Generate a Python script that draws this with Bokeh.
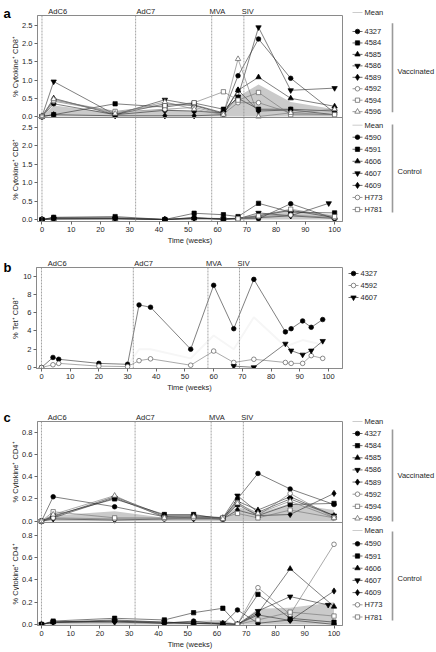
import math
from bokeh.plotting import figure
from bokeh.models import Range1d, FixedTicker, Span
from bokeh.layouts import row, column
from bokeh.embed import file_html
from bokeh.resources import INLINE
from bokeh.core.properties import value

# ---------------- data ----------------
WEEKS = [0, 4, 25, 42, 52, 62, 67, 74, 85, 100]
WEEKS_4607 = [0, 4, 25, 42, 52, 62, 67, 74, 85, 98]
WEEKS_NAIVE = [67, 74, 85, 100]

VACCINATED = ["4327", "4584", "4585", "4586", "4589", "4592", "4594", "4596"]
CONTROL = ["4590", "4591", "4606", "4607", "4609", "H773", "H781"]
TET_ANIMALS = ["4327", "4592", "4607"]

IMMUNIZATION_WEEKS = [0, 32, 58, 69]
IMMUNIZATION_LABELS = ["AdC6", "AdC7", "MVA", "SIV"]

X_TICKS = [0, 10, 20, 30, 40, 50, 60, 70, 80, 90, 100]
CD8_TICKS = [0.0, 0.5, 1.0, 1.5, 2.0, 2.5]
CD4_TICKS = [0.0, 0.2, 0.4, 0.6, 0.8]
TET_TICKS = [0, 2, 4, 6, 8, 10]

# panel a, vaccinated: % cytokine+ CD8+
CD8_V_4327 = [0, 0.35, 0.05, 0.17, 0.15, 0.10, 1.12, 2.13, 1.05, 0.10]
CD8_V_4584 = [0, 0.05, 0.35, 0.26, 0.37, 0.20, 0.50, 0.20, 0.20, 0.15]
CD8_V_4585 = [0, 0.50, 0.05, 0.35, 0.30, 0.08, 0.72, 1.08, 0.50, 0.28]
CD8_V_4586 = [0, 0.96, 0.05, 0.46, 0.32, 0.10, 0.55, 2.45, 0.72, 0.78]
CD8_V_4589 = [0, 0.05, 0.02, 0.02, 0.02, 0.05, 0.73, 0.15, 0.18, 0.05]
CD8_V_4592 = [0, 0.42, 0.12, 0.20, 0.25, 0.07, 0.38, 0.38, 0.10, 0.05]
CD8_V_4594 = [0, 0.45, 0.14, 0.30, 0.38, 0.68, 0.45, 0.66, 0.05, 0.05]
CD8_V_4596 = [0, 0.48, 0.08, 0.40, 0.20, 0.05, 1.58, 0.00, 0.10, 0.20]
CD8_V_MEAN = [0, 0.30, 0.10, 0.20, 0.15, 0.10, 0.55, 0.88, 0.40, 0.20]

# panel a, control: % cytokine+ CD8+
CD8_C_4590 = [0, 0.05, 0.05, 0.00, 0.05, 0.00, 0.02, 0.02, 0.43, 0.02]
CD8_C_4591 = [0, 0.06, 0.08, 0.00, 0.17, 0.13, 0.08, 0.44, 0.20, 0.18]
CD8_C_4606 = [0, 0.02, 0.02, 0.00, 0.03, 0.02, 0.03, 0.10, 0.25, 0.05]
CD8_C_4607 = [0, 0.01, 0.02, 0.00, 0.02, 0.02, 0.02, 0.18, 0.10, 0.44]
CD8_C_4609 = [0, 0.03, 0.03, 0.00, 0.05, 0.01, 0.04, 0.05, 0.10, 0.03]
CD8_C_H773 = [0.03, 0.08, 0.12, 0.05]
CD8_C_H781 = [0.02, 0.10, 0.28, 0.08]
CD8_C_MEAN = [0, 0.03, 0.04, 0.00, 0.06, 0.04, 0.04, 0.15, 0.25, 0.12]

# panel b: % Tet+ CD8+
TET_WEEKS = [0, 4, 6, 20, 30, 34, 38, 52, 60, 67, 74, 85, 87, 91, 94, 98]
TET_WEEKS_4607 = [67, 74, 85, 87, 91, 94, 98]
TET_4327 = [0, 1.1, 0.9, 0.45, 0.35, 6.85, 6.6, 2.0, 9.0, 4.25, 9.65, 3.9, 4.25, 5.1, 4.4, 5.25]
TET_4592 = [0, 0.3, 0.45, 0.15, 0.1, 0.75, 0.95, 0.25, 1.8, 0.55, 0.9, 0.55, 0.45, 0.45, 1.3, 1.0]
TET_4607 = [0.15, 0.02, 2.6, 1.85, 1.4, 1.85, 2.9]
TET_MEAN_WEEKS = [30, 34, 38, 52, 60, 67, 74, 85, 91, 98]
TET_MEAN = [0.2, 2.0, 2.0, 1.0, 3.5, 2.0, 5.5, 2.3, 3.0, 2.5]

# panel c, vaccinated: % cytokine+ CD4+
CD4_V_4327 = [0, 0.22, 0.13, 0.04, 0.03, 0.02, 0.20, 0.43, 0.29, 0.15]
CD4_V_4584 = [0, 0.05, 0.20, 0.06, 0.06, 0.02, 0.15, 0.05, 0.15, 0.16]
CD4_V_4585 = [0, 0.04, 0.22, 0.05, 0.05, 0.03, 0.18, 0.10, 0.22, 0.05]
CD4_V_4586 = [0, 0.03, 0.21, 0.04, 0.04, 0.03, 0.23, 0.08, 0.20, 0.05]
CD4_V_4589 = [0, 0.02, 0.01, 0.02, 0.02, 0.02, 0.10, 0.05, 0.06, 0.25]
CD4_V_4592 = [0, 0.03, 0.02, 0.02, 0.03, 0.02, 0.17, 0.05, 0.25, 0.03]
CD4_V_4594 = [0, 0.085, 0.03, 0.03, 0.03, 0.03, 0.07, 0.03, 0.10, 0.03]
CD4_V_4596 = [0, 0.06, 0.23, 0.03, 0.04, 0.02, 0.16, 0.07, 0.18, 0.03]
CD4_V_MEAN = [0, 0.05, 0.09, 0.03, 0.04, 0.04, 0.13, 0.07, 0.16, 0.10]

# panel c, control: % cytokine+ CD4+
CD4_C_4590 = [0, 0.02, 0.03, 0.01, 0.03, 0.00, 0.13, 0.01, 0.04, 0.00]
CD4_C_4591 = [0, 0.03, 0.055, 0.04, 0.105, 0.145, 0.00, 0.27, 0.055, 0.02]
CD4_C_4606 = [0, 0.02, 0.04, 0.02, 0.01, 0.01, 0.00, 0.10, 0.50, 0.16]
CD4_C_4607 = [0, 0.02, 0.03, 0.02, 0.01, 0.01, 0.00, 0.12, 0.25, 0.175]
CD4_C_4609 = [0, 0.02, 0.02, 0.01, 0.01, 0.00, 0.00, 0.085, 0.035, 0.30]
CD4_C_H773 = [0.00, 0.33, 0.09, 0.72]
CD4_C_H781 = [0.00, 0.04, 0.11, 0.075]
CD4_C_MEAN = [0, 0.02, 0.035, 0.02, 0.03, 0.04, 0.00, 0.14, 0.15, 0.20]

CD8_VACC = {"4327": (WEEKS, CD8_V_4327), "4584": (WEEKS, CD8_V_4584), "4585": (WEEKS, CD8_V_4585),
            "4586": (WEEKS, CD8_V_4586), "4589": (WEEKS, CD8_V_4589), "4592": (WEEKS, CD8_V_4592),
            "4594": (WEEKS, CD8_V_4594), "4596": (WEEKS, CD8_V_4596)}
CD8_CTRL = {"4590": (WEEKS, CD8_C_4590), "4591": (WEEKS, CD8_C_4591), "4606": (WEEKS, CD8_C_4606),
            "4607": (WEEKS_4607, CD8_C_4607), "4609": (WEEKS, CD8_C_4609),
            "H773": (WEEKS_NAIVE, CD8_C_H773), "H781": (WEEKS_NAIVE, CD8_C_H781)}
CD4_VACC = {"4327": (WEEKS, CD4_V_4327), "4584": (WEEKS, CD4_V_4584), "4585": (WEEKS, CD4_V_4585),
            "4586": (WEEKS, CD4_V_4586), "4589": (WEEKS, CD4_V_4589), "4592": (WEEKS, CD4_V_4592),
            "4594": (WEEKS, CD4_V_4594), "4596": (WEEKS, CD4_V_4596)}
CD4_CTRL = {"4590": (WEEKS, CD4_C_4590), "4591": (WEEKS, CD4_C_4591), "4606": (WEEKS, CD4_C_4606),
            "4607": (WEEKS_4607, CD4_C_4607), "4609": (WEEKS, CD4_C_4609),
            "H773": (WEEKS_NAIVE, CD4_C_H773), "H781": (WEEKS_NAIVE, CD4_C_H781)}
TET = {"4327": (TET_WEEKS, TET_4327), "4592": (TET_WEEKS, TET_4592), "4607": (TET_WEEKS_4607, TET_4607)}

# ---------------- style ----------------
FONT = "Liberation Sans"
TXT = "#1e1e1e"
FRAME = "#8a8a8a"
FS = "7.5px"
BAND = "#cacaca"
MEAN_LINE = "#cccccc"
STYLE = {"4327": ("circle", True), "4584": ("square", True), "4585": ("triangle", True),
         "4586": ("inverted_triangle", True), "4589": ("diamond", True), "4592": ("circle", False),
         "4594": ("square", False), "4596": ("triangle", False),
         "4590": ("circle", True), "4591": ("square", True), "4606": ("triangle", True),
         "4607": ("inverted_triangle", True), "4609": ("diamond", True), "H773": ("circle", False),
         "H781": ("square", False)}
SIZES = {"circle": 4.6, "square": 4.3, "triangle": 5.4, "inverted_triangle": 5.4, "diamond": 6.2}

LEFT_W = 19      # strip with panel letter and y-axis titles
MAIN_W = 325     # plot incl. tick labels
LEG_W = 92
AX_B = 17        # left border of plot (tick labels)
RIGHT_B = 2
BOT_B = 26


def line_col(sid):
    return "#2a2a2a" if STYLE[sid][1] else "#707070"


def marker_kw(sid):
    marker, filled = STYLE[sid]
    return dict(marker=marker, size=SIZES[marker], fill_color="black" if filled else "white",
                line_color="black" if filled else "#5a5a5a", line_width=0.7)


def draw_group(p, group, yname="default"):
    for sid, (x, y) in group.items():
        p.line(x, y, line_color=line_col(sid), line_width=0.6, y_range_name=yname)
    for sid, (x, y) in group.items():
        p.scatter(x, y, y_range_name=yname, **marker_kw(sid))


def add_text(p, x, y, s, **kw):
    opts = dict(text_font=value(FONT), text_font_size=value(FS), text_color=TXT,
                text_align="left", text_baseline="middle")
    opts.update(kw)
    p.text(x=[x], y=[y], text=[s], **opts)


def blank_fig(width, height, xr, yr):
    p = figure(width=width, height=height, x_range=Range1d(*xr), y_range=Range1d(*yr),
               output_backend="svg", toolbar_location=None, x_axis_location=None, y_axis_location=None,
               min_border=0, title=None)
    p.xgrid.visible = False
    p.ygrid.visible = False
    p.outline_line_color = None
    p.background_fill_color = "white"
    p.border_fill_color = "white"
    return p


def style_axis(ax):
    ax.axis_line_color = FRAME
    ax.major_tick_line_color = "#666666"
    ax.major_tick_in = 0
    ax.major_tick_out = 3
    ax.minor_tick_line_color = None
    ax.major_label_text_font = FONT
    ax.major_label_text_font_size = FS
    ax.major_label_text_color = TXT
    ax.major_label_standoff = 2
    ax.axis_label_text_font = FONT
    ax.axis_label_text_font_size = FS
    ax.axis_label_text_font_style = "normal"
    ax.axis_label_text_color = TXT
    ax.axis_label_standoff = 1


def main_fig(frame_h, xr, yr):
    p = figure(width=MAIN_W, height=1 + frame_h + BOT_B, x_range=Range1d(*xr), y_range=Range1d(*yr),
               output_backend="svg", toolbar_location=None, title=None,
               min_border_left=AX_B, min_border_right=RIGHT_B, min_border_top=1, min_border_bottom=BOT_B)
    p.xgrid.visible = False
    p.ygrid.visible = False
    p.outline_line_color = FRAME
    p.outline_line_width = 1
    p.background_fill_color = "white"
    p.border_fill_color = "white"
    for ax in p.axis:
        style_axis(ax)
    p.xaxis.ticker = FixedTicker(ticks=X_TICKS)
    p.xaxis.axis_label = "Time (weeks)"
    for w in IMMUNIZATION_WEEKS:
        p.add_layout(Span(location=w, dimension="height", line_color="#8c8c8c", line_width=0.8,
                          line_dash="2 1"))
    return p


def header_fig(height, xr):
    # same x scale as the plot frame, extended over the plot's borders
    pxw = (MAIN_W - AX_B - RIGHT_B) / (xr[1] - xr[0])
    hr = (xr[0] - AX_B / pxw, xr[1] + RIGHT_B / pxw)
    p = blank_fig(MAIN_W, height, hr, (0, height))
    for w, lab in zip(IMMUNIZATION_WEEKS, IMMUNIZATION_LABELS):
        add_text(p, w, 3.5, lab, text_align="center", text_baseline="alphabetic")
    return p


def left_fig(height, letter, letter_y, titles):
    p = blank_fig(LEFT_W, height, (0, LEFT_W), (height, 0))
    add_text(p, 3, letter_y, letter, text_font_size=value("13px"), text_font_style="bold",
             text_color="black", text_baseline="alphabetic")
    for s, y in titles:
        add_text(p, 14.5, y, s, angle=math.pi / 2, text_align="center")
    return p


def stacked(frame_h, top_px, xr, top_rng, bot_rng, ticks, fmt):
    f_top = top_px / frame_h
    bot_ext = (bot_rng[0], bot_rng[0] + (bot_rng[1] - bot_rng[0]) / (1 - f_top))
    top_ext = (top_rng[1] - (top_rng[1] - top_rng[0]) / f_top, top_rng[1])
    p = main_fig(frame_h, xr, bot_ext)
    p.extra_y_ranges = {"top": Range1d(*top_ext)}

    def to_default(v):
        return bot_ext[0] + (v - top_ext[0]) / (top_ext[1] - top_ext[0]) * (bot_ext[1] - bot_ext[0])

    all_ticks = list(ticks) + [to_default(v) for v in ticks]
    overrides = {t: fmt.format(t) for t in ticks}
    overrides.update({to_default(v): fmt.format(v) for v in ticks})
    p.yaxis.ticker = FixedTicker(ticks=all_ticks)
    p.yaxis.major_label_overrides = overrides
    p.add_layout(Span(location=bot_rng[1], dimension="width", line_color=FRAME, line_width=1))
    return p


def legend_fig(height, entries, brackets, groups, x0=8):
    p = blank_fig(LEG_W, height, (0, LEG_W), (height, 0))
    for label, sid, y in entries:
        if sid is None:
            p.segment(x0=[x0], y0=[y], x1=[x0 + 10], y1=[y], line_color=MEAN_LINE, line_width=1)
        else:
            p.segment(x0=[x0], y0=[y], x1=[x0 + 10], y1=[y], line_color=line_col(sid), line_width=0.7)
            p.scatter([x0 + 5], [y], **marker_kw(sid))
        add_text(p, x0 + 12, y, label)
    for y0, y1 in brackets:
        p.segment(x0=[48], y0=[y0], x1=[48], y1=[y1], line_color="#9a9a9a", line_width=1.6)
    for label, y in groups:
        add_text(p, 53, y, label)
    return p


def group_entries(y_mean1, y_first_v, step_v, y_mean2, y_first_c, step_c):
    entries = [("Mean", None, y_mean1)]
    entries += [(sid, sid, y_first_v + i * step_v) for i, sid in enumerate(VACCINATED)]
    entries += [("Mean", None, y_mean2)]
    entries += [(sid, sid, y_first_c + i * step_c) for i, sid in enumerate(CONTROL)]
    return entries


def panel(hdr_h, plot, xr, letter, letter_y, titles, legend):
    total = hdr_h + plot.height
    return row(left_fig(total, letter, letter_y, titles),
               column(header_fig(hdr_h, xr), plot),
               legend)


CD8_TITLE = "% Cytokine\u207a CD8\u207a"
CD4_TITLE = "% Cytokine\u207a CD4\u207a"

# ---------------- panel a ----------------
XR_A = (-1.53, 102.7)
A_HDR, A_FRAME, A_TOPPX = 14, 206, 102
pa = stacked(A_FRAME, A_TOPPX, XR_A, (-0.027, 2.775), (-0.054, 2.77), CD8_TICKS, "{:.1f}")
pa.varea(x=WEEKS, y1=[0] * len(WEEKS), y2=CD8_V_MEAN, fill_color=BAND, y_range_name="top")
pa.varea(x=WEEKS, y1=[0] * len(WEEKS), y2=CD8_C_MEAN, fill_color=BAND)
draw_group(pa, CD8_VACC, "top")
draw_group(pa, CD8_CTRL)
A_TOTAL = A_HDR + pa.height
leg_a = legend_fig(A_TOTAL, group_entries(12, 31, 11.45, 124.7, 136.7, 12.05),
                   [(22.7, 111.7), (124, 212)], [("Vaccinated", 71), ("Control", 171)])
row_a = panel(A_HDR, pa, XR_A, "a", 13, [(CD8_TITLE, 66), (CD8_TITLE, 169)], leg_a)

# ---------------- panel b ----------------
XR_B = (-1.74, 104.9)
B_HDR, B_FRAME = 19, 101
pb = main_fig(B_FRAME, XR_B, (-0.11, 10.95))
pb.yaxis.ticker = FixedTicker(ticks=TET_TICKS)
pb.line(TET_MEAN_WEEKS, TET_MEAN, line_color="#f6f6f6", line_width=2)
draw_group(pb, TET)
B_TOTAL = B_HDR + pb.height
leg_b = legend_fig(B_TOTAL, [(sid, sid, 26 + i * 12) for i, sid in enumerate(TET_ANIMALS)], [], [], x0=4)
row_b = panel(B_HDR, pb, XR_B, "b", 20, [("% Tet\u207a CD8\u207a", 70.5)], leg_b)

# ---------------- panel c ----------------
XR_C = (-1.36, 102.9)
C_HDR, C_FRAME, C_TOPPX = 26, 204, 101
pc = stacked(C_FRAME, C_TOPPX, XR_C, (-0.012, 0.898), (-0.01, 0.916), CD4_TICKS, "{:.1f}")
pc.varea(x=WEEKS, y1=[0] * len(WEEKS), y2=CD4_V_MEAN, fill_color=BAND, y_range_name="top")
pc.varea(x=WEEKS, y1=[0] * len(WEEKS), y2=CD4_C_MEAN, fill_color=BAND)
draw_group(pc, CD4_VACC, "top")
draw_group(pc, CD4_CTRL)
C_TOTAL = C_HDR + pc.height
leg_c = legend_fig(C_TOTAL, group_entries(27, 39, 12.14, 136, 149.3, 12.2),
                   [(35, 127), (137, 226)], [("Vaccinated", 81), ("Control", 184)])
row_c = panel(C_HDR, pc, XR_C, "c", 23, [(CD4_TITLE, 77.5), (CD4_TITLE, 179.5)], leg_c)

layout = column(row_a, row_b, row_c)
open("out.html", "w").write(file_html(layout, INLINE))
